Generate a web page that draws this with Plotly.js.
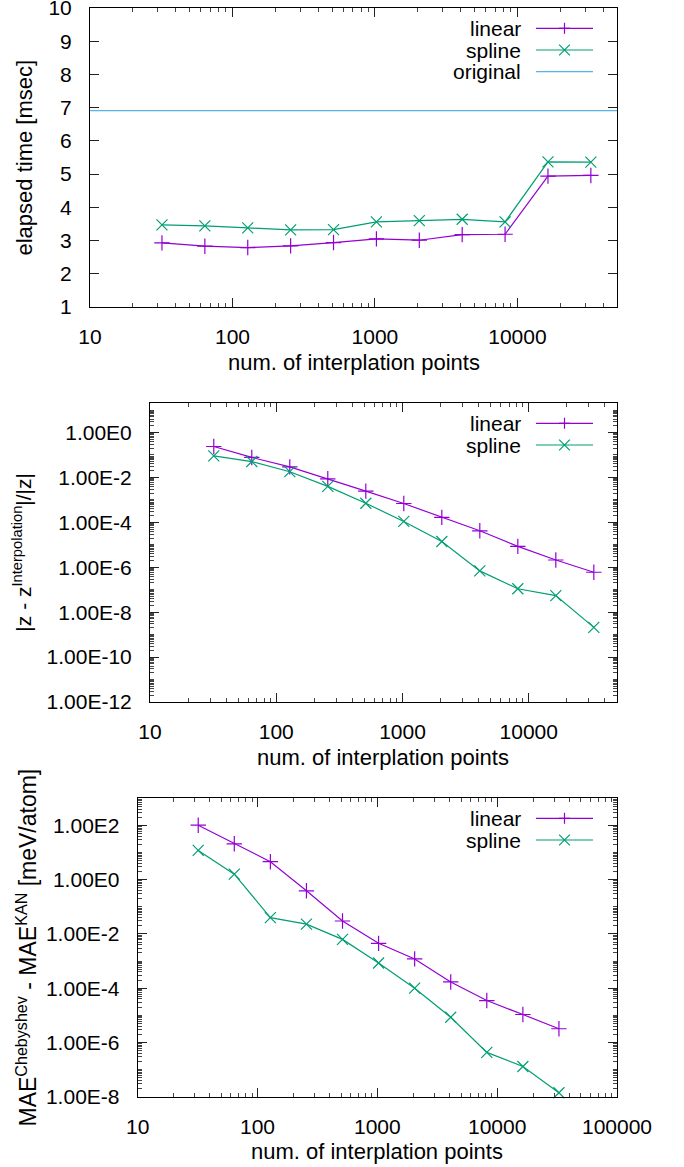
<!DOCTYPE html>
<html>
<head>
<meta charset="utf-8">
<script src="https://cdn.plot.ly/plotly-3.0.1.min.js"></script>
<style>html,body{margin:0;padding:0;background:#fff;}#chart{width:684px;height:1167px;}</style>
</head>
<body>
<div id="chart"></div>
<script>
// ---- data ----
const points = [32, 64, 128, 256, 512, 1024, 2048, 4096, 8192, 16384, 32768];
const timeLinear = [2.93, 2.83, 2.79, 2.84, 2.94, 3.05, 3.01, 3.18, 3.19, 4.94, 4.96];
const timeSpline = [3.47, 3.44, 3.38, 3.32, 3.33, 3.56, 3.60, 3.64, 3.56, 5.37, 5.36];
const timeOriginal = 6.91;
const errLinear = [0.238, 0.0776, 0.0295, 0.0087, 0.00245, 6.9e-4, 1.66e-4, 4.2e-5, 8.5e-6, 2.1e-6, 6.0e-7];
const errSpline = [0.091, 0.051, 0.018, 0.0040, 7.1e-4, 1.1e-4, 1.4e-5, 6.9e-7, 1.1e-7, 5.5e-8, 2.1e-9];
const maeLinear = [102, 21, 4.6, 0.39, 0.030, 4.5e-3, 1.2e-3, 1.7e-4, 3.5e-5, 1.07e-5, 3.2e-6];
const maeSpline = [12, 1.6, 0.040, 0.023, 6.3e-3, 8.5e-4, 1.0e-4, 8.5e-6, 4.3e-7, 1.3e-7, 1.4e-8];

const xTickVals = [10, 100, 1000, 10000, 100000];
const xTickText = ['10', '100', '1000', '10000', '100000'];
const timeTickVals = [1, 2, 3, 4, 5, 6, 7, 8, 9, 10];
const timeTickText = ['1', '2', '3', '4', '5', '6', '7', '8', '9', '10'];
const errTickVals = [1e0, 1e-2, 1e-4, 1e-6, 1e-8, 1e-10, 1e-12];
const errTickText = ['1.00E0', '1.00E-2', '1.00E-4', '1.00E-6', '1.00E-8', '1.00E-10', '1.00E-12'];
const maeTickVals = [1e2, 1e0, 1e-2, 1e-4, 1e-6, 1e-8];
const maeTickText = ['1.00E2', '1.00E0', '1.00E-2', '1.00E-4', '1.00E-6', '1.00E-8'];

const seriesNames = ['linear', 'spline', 'original'];
const xTitle = 'num. of interplation points';
const yTitles = ['elapsed time [msec]', '|z - z<sup>Interpolation</sup>|/|z|',
  'MAE<sup>Chebyshev</sup> - MAE<sup>KAN</sup> [meV/atom]'];

// ---- style ----
const W = 684, H = 1167;
const C_LIN = '#9400D3', C_SPL = '#009E73', C_ORG = '#56B4E9';
const FONT = 'Liberation Sans';
const px = v => v / W;
const py = v => 1 - v / H;

const panels = [
  {l: 90, r: 617, t: 8, b: 307},
  {l: 150, r: 617, t: 403.3, b: 702},
  {l: 137.7, r: 617, t: 798.3, b: 1096.7}
];

function lineTrace(y, color, symbol, xa, ya) {
  return {
    x: points, y: y, xaxis: xa, yaxis: ya, type: 'scatter', mode: 'lines+markers',
    line: {color: color, width: 1.2},
    marker: {symbol: symbol, size: 11, color: color, line: {color: color, width: 1.2}},
    cliponaxis: false, showlegend: false
  };
}

const traces = [
  lineTrace(timeLinear, C_LIN, 'cross-thin', 'x', 'y'),
  lineTrace(timeSpline, C_SPL, 'x-thin', 'x', 'y'),
  lineTrace(errLinear, C_LIN, 'cross-thin', 'x2', 'y2'),
  lineTrace(errSpline, C_SPL, 'x-thin', 'x2', 'y2'),
  lineTrace(maeLinear, C_LIN, 'cross-thin', 'x3', 'y3'),
  lineTrace(maeSpline, C_SPL, 'x-thin', 'x3', 'y3')
];

function baseAxis(extra) {
  return Object.assign({
    showline: true, linecolor: '#000', linewidth: 1, mirror: 'ticks',
    ticks: 'inside', ticklen: 9, tickwidth: 1, tickcolor: '#222',
    showgrid: false, zeroline: false, fixedrange: true, automargin: false,
    ticklabeloverflow: 'allow',
    tickfont: {family: FONT, size: 21, color: '#000'}
  }, extra);
}
function logMinor() {
  return {ticks: 'inside', ticklen: 4, tickwidth: 1, tickcolor: '#444', dtick: 'D1', showgrid: false};
}

function xAxis(p, anchor, maxVal) {
  return baseAxis({
    domain: [px(p.l), px(p.r)], anchor: anchor, type: 'log',
    range: [1, Math.log10(maxVal)],
    tickmode: 'array', tickvals: xTickVals, ticktext: xTickText,
    ticklabelstandoff: 11, minor: logMinor()
  });
}

const layout = {
  width: W, height: H, margin: {l: 0, r: 0, t: 0, b: 0},
  paper_bgcolor: '#fff', plot_bgcolor: '#fff', showlegend: false,
  font: {family: FONT, size: 21, color: '#000'},
  xaxis: xAxis(panels[0], 'y', 50000),
  xaxis2: xAxis(panels[1], 'y2', 50000),
  xaxis3: xAxis(panels[2], 'y3', 100000),
  yaxis: baseAxis({
    domain: [py(panels[0].b), py(panels[0].t)], anchor: 'x',
    range: [1, 10], tickmode: 'array', tickvals: timeTickVals, ticktext: timeTickText,
    ticklabelstandoff: 13
  }),
  yaxis2: baseAxis({
    domain: [py(panels[1].b), py(panels[1].t)], anchor: 'x2', type: 'log',
    range: [-12, Math.log10(20)], tickmode: 'array', tickvals: errTickVals, ticktext: errTickText,
    ticklabelstandoff: 13, minor: logMinor()
  }),
  yaxis3: baseAxis({
    domain: [py(panels[2].b), py(panels[2].t)], anchor: 'x3', type: 'log',
    range: [-8, 3], tickmode: 'array', tickvals: maeTickVals, ticktext: maeTickText,
    ticklabelstandoff: 13, minor: logMinor()
  }),
  shapes: [
    {type: 'line', xref: 'x domain', yref: 'y', x0: 0, x1: 1, y0: timeOriginal, y1: timeOriginal,
     line: {color: C_ORG, width: 1.2}}
  ],
  annotations: []
};

// axis titles
const xTitleY = [362, 757, 1151];
const yTitleX = [24, 22, 26];
const yTitleSize = [22, 21, 23];
panels.forEach((p, i) => {
  layout.annotations.push({
    xref: 'paper', yref: 'paper', x: px((p.l + p.r) / 2), y: py(xTitleY[i]),
    xanchor: 'center', yanchor: 'middle', showarrow: false, text: xTitle,
    font: {family: FONT, size: 22, color: '#000'}
  });
  layout.annotations.push({
    xref: 'paper', yref: 'paper', x: px(yTitleX[i]), y: py((p.t + p.b) / 2),
    xanchor: 'center', yanchor: 'middle', showarrow: false, text: yTitles[i], textangle: -90,
    font: {family: FONT, size: yTitleSize[i], color: '#000'}
  });
});

// key (gnuplot style: text left, sample right)
const keyRows = [[28.3, 50, 71.7], [423.3, 445], [818.3, 840]];
const keyColors = [C_LIN, C_SPL, C_ORG];
const keySym = ['+', 'x', ''];
keyRows.forEach(rows => {
  rows.forEach((yy, j) => {
    layout.annotations.push({
      xref: 'paper', yref: 'paper', x: px(523), y: py(yy), xanchor: 'right', yanchor: 'middle',
      showarrow: false, text: seriesNames[j], font: {family: FONT, size: 21, color: '#000'}
    });
    layout.shapes.push({type: 'line', xref: 'paper', yref: 'paper', x0: px(536), x1: px(593),
      y0: py(yy), y1: py(yy), line: {color: keyColors[j], width: 1.2}});
    const cx = 564.5, s = 5.5;
    if (keySym[j] === '+') {
      layout.shapes.push({type: 'line', xref: 'paper', yref: 'paper', x0: px(cx - s), x1: px(cx + s), y0: py(yy), y1: py(yy), line: {color: keyColors[j], width: 1.2}});
      layout.shapes.push({type: 'line', xref: 'paper', yref: 'paper', x0: px(cx), x1: px(cx), y0: py(yy - s), y1: py(yy + s), line: {color: keyColors[j], width: 1.2}});
    } else if (keySym[j] === 'x') {
      const d = 5.4;
      layout.shapes.push({type: 'line', xref: 'paper', yref: 'paper', x0: px(cx - d), x1: px(cx + d), y0: py(yy - d), y1: py(yy + d), line: {color: keyColors[j], width: 1.2}});
      layout.shapes.push({type: 'line', xref: 'paper', yref: 'paper', x0: px(cx - d), x1: px(cx + d), y0: py(yy + d), y1: py(yy - d), line: {color: keyColors[j], width: 1.2}});
    }
  });
});

Plotly.newPlot('chart', traces, layout, {staticPlot: true, displayModeBar: false});
</script>
</body>
</html>
